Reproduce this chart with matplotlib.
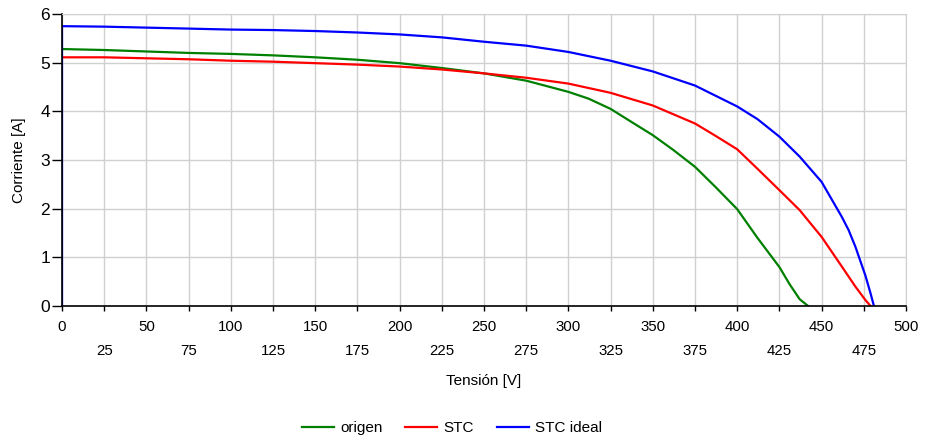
import matplotlib
matplotlib.use("Agg")
import matplotlib.pyplot as plt
from matplotlib.ticker import MultipleLocator, FixedLocator, FormatStrFormatter

plt.rcParams['font.family'] = ['Liberation Sans', 'DejaVu Sans']

# Data
v_origen = [0, 25, 50, 75, 100, 125, 150, 175, 200, 225, 250, 275, 300, 312,
            325, 337, 350, 362, 375, 387, 400, 412, 425, 431, 437, 442]
i_origen = [5.28, 5.26, 5.23, 5.20, 5.18, 5.15, 5.11, 5.06, 4.99, 4.89, 4.78,
            4.63, 4.40, 4.26, 4.05, 3.79, 3.51, 3.21, 2.86, 2.45, 1.99, 1.40,
            0.80, 0.45, 0.14, 0.0]

v_stc = [0, 25, 50, 75, 100, 125, 150, 175, 200, 225, 250, 275, 300, 325,
         350, 375, 387, 400, 412, 425, 437, 450, 462, 470, 476, 479]
i_stc = [5.11, 5.11, 5.09, 5.07, 5.04, 5.02, 4.99, 4.96, 4.92, 4.86, 4.78,
         4.69, 4.57, 4.38, 4.12, 3.75, 3.50, 3.22, 2.82, 2.38, 1.97, 1.42,
         0.81, 0.40, 0.12, 0.0]

v_ideal = [0, 0, 25, 50, 75, 100, 125, 150, 175, 200, 225, 250, 275, 300, 325,
           350, 375, 400, 412, 425, 437, 450, 462, 466, 470, 476, 479, 481]
i_ideal = [0.0, 5.75, 5.74, 5.72, 5.70, 5.68, 5.67, 5.65, 5.62, 5.58, 5.52,
           5.43, 5.35, 5.22, 5.04, 4.82, 4.53, 4.10, 3.84, 3.48, 3.07, 2.55,
           1.83, 1.56, 1.22, 0.62, 0.26, 0.0]

labels = ["origen", "STC", "STC ideal"]
colors = ["#008000", "#ff0000", "#0000ff"]

fig = plt.figure(figsize=(9.27, 4.42), dpi=100)
ax = fig.add_axes([62 / 927, 1 - 306 / 442, (906 - 62) / 927, (306 - 14) / 442])

for v, i, lab, c in zip([v_origen, v_stc, v_ideal], [i_origen, i_stc, i_ideal], labels, colors):
    ax.plot(v, i, color=c, lw=1.6, label=lab, solid_joinstyle='round')

ax.set_xlim(0, 500)
ax.set_ylim(0, 6)
ax.xaxis.set_major_locator(MultipleLocator(50))
ax.xaxis.set_minor_locator(FixedLocator(list(range(25, 500, 50))))
ax.xaxis.set_minor_formatter(FormatStrFormatter('%d'))
ax.yaxis.set_major_locator(MultipleLocator(1))

ax.grid(True, which='both', color='#d0d0d0', lw=1)
ax.set_axisbelow(True)

ax.tick_params(axis='x', which='major', length=3.6, width=1, pad=6.5, labelsize=10.8, direction='out')
ax.tick_params(axis='x', which='minor', length=3.6, width=1, pad=24, labelsize=10.8, direction='out')
ax.tick_params(axis='y', length=7, width=1, pad=1.7, labelsize=12.5, direction='out')

for s in ['top', 'right']:
    ax.spines[s].set_color('#d0d0d0')
for s in ['left', 'bottom']:
    ax.spines[s].set_color('black')
    ax.spines[s].set_linewidth(1.2)

ax.set_ylabel("Corriente [A]", fontsize=11, labelpad=10)
ax.set_xlabel("Tensión [V]", fontsize=11, labelpad=11.5)

fig.legend(loc='center', ncol=3, frameon=False, fontsize=11,
           handlelength=2.1, handletextpad=0.4, columnspacing=1.5,
           bbox_to_anchor=(452 / 927, 1 - 428 / 442))

fig.savefig("out.png", dpi=100)
